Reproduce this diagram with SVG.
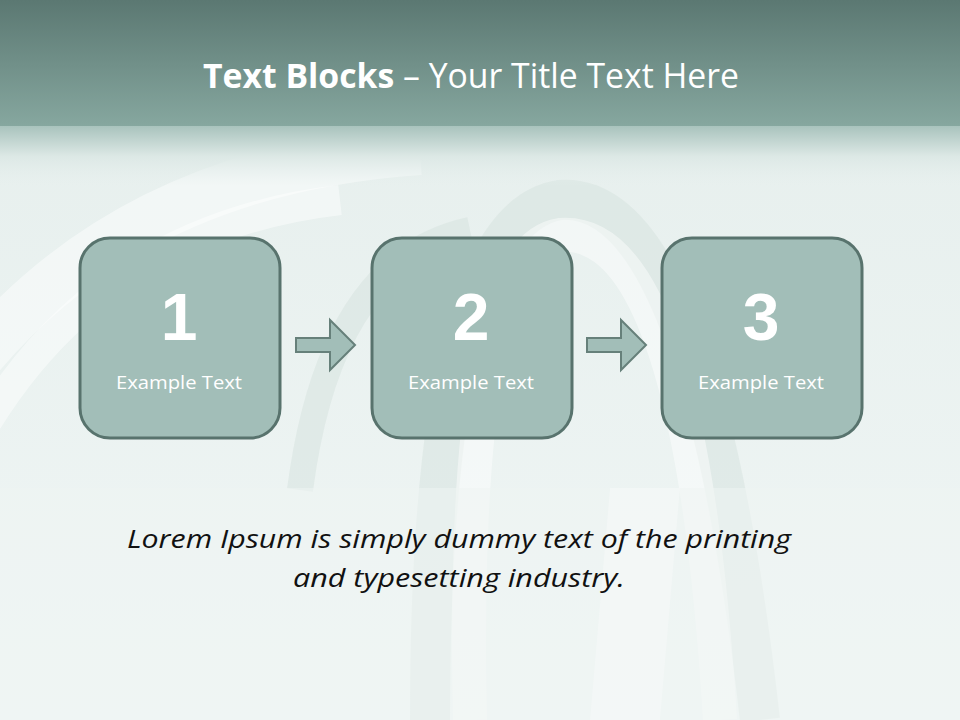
<svg xmlns="http://www.w3.org/2000/svg" width="960" height="720" viewBox="0 0 960 720">
<defs>
<linearGradient id="hdr" x1="0" y1="0" x2="0" y2="1">
<stop offset="0" stop-color="#5b7872"/>
<stop offset="1" stop-color="#86a79f"/>
</linearGradient>
<linearGradient id="fade" x1="0" y1="0" x2="0" y2="1">
<stop offset="0" stop-color="#a9c3bd"/>
<stop offset="0.5" stop-color="#dce8e5"/>
<stop offset="1" stop-color="#e6efed" stop-opacity="0"/>
</linearGradient>
<linearGradient id="bg" x1="0" y1="0" x2="0" y2="1">
<stop offset="0" stop-color="#e5eeec"/>
<stop offset="1" stop-color="#f0f6f5"/>
</linearGradient>
<style>
.box{fill:#a2beb8;stroke:#58736d;stroke-width:3}
.arr{fill:#a2beb8;stroke:#66807a;stroke-width:2}
.num{font-family:"Liberation Sans",Arial,sans-serif;font-weight:bold;font-size:66px;fill:#ffffff;text-anchor:middle}
.lbl{font-family:"Open Sans",sans-serif;font-size:19px;fill:#ffffff;text-anchor:middle}
.body{font-family:"Open Sans",sans-serif;font-style:italic;font-size:26px;fill:#111111;text-anchor:middle}
.arc{fill:none;stroke:#ffffff;stroke-opacity:0.45}
.shd{fill:none;stroke:#d3dfdc;stroke-opacity:0.45}
</style>
</defs>
<rect x="0" y="0" width="960" height="720" fill="url(#bg)"/>
<g id="background">
<path class="shd" stroke-width="40" d="M430 720 Q430 220 560 200 Q700 190 760 720"/>
<path class="arc" stroke-width="34" d="M470 720 Q460 250 560 235 Q690 225 720 720"/>
<path class="shd" stroke-width="26" d="M300 490 Q330 260 470 230"/>
<path class="arc" stroke-width="50" d="M-40 380 Q120 170 420 150"/>
<path class="arc" stroke-width="30" d="M-40 470 Q80 230 340 200"/>
<rect x="0" y="488" width="960" height="232" fill="#eef4f3" opacity="0.55"/>
<path d="M590 720 L610 488 L680 488 L660 720 Z" fill="#f7fafa" opacity="0.5"/>
</g>
<rect x="0" y="0" width="960" height="126" fill="url(#hdr)"/>
<rect x="0" y="126" width="960" height="60" fill="url(#fade)"/>
<g id="title">
<text x="471" y="88" text-anchor="middle" font-family="'Open Sans',sans-serif" font-size="34" fill="#ffffff" textLength="536" lengthAdjust="spacingAndGlyphs"><tspan font-weight="bold">Text Blocks</tspan> – Your Title Text Here</text>
</g>
<g id="connectors">
<path class="arr" d="M296 338 L330 338 L330 320 L355 345 L330 370 L330 352 L296 352 Z"/>
<path class="arr" d="M587 338 L621 338 L621 320 L646 345 L621 370 L621 352 L587 352 Z"/>
</g>
<g id="node1">
<rect class="box" x="80" y="238" width="200" height="200" rx="30"/>
<text class="num" x="179" y="340">1</text>
<text class="lbl" x="179" y="389" textLength="126" lengthAdjust="spacingAndGlyphs">Example Text</text>
</g>
<g id="node2">
<rect class="box" x="372" y="238" width="200" height="200" rx="30"/>
<text class="num" x="471" y="340">2</text>
<text class="lbl" x="471" y="389" textLength="126" lengthAdjust="spacingAndGlyphs">Example Text</text>
</g>
<g id="node3">
<rect class="box" x="662" y="238" width="200" height="200" rx="30"/>
<text class="num" x="761" y="340">3</text>
<text class="lbl" x="761" y="389" textLength="126" lengthAdjust="spacingAndGlyphs">Example Text</text>
</g>
<g id="body">
<text class="body" x="459" y="548" textLength="664" lengthAdjust="spacingAndGlyphs">Lorem Ipsum is simply dummy text of the printing</text>
<text class="body" x="459" y="587" textLength="332" lengthAdjust="spacingAndGlyphs">and typesetting industry.</text>
</g>
</svg>
